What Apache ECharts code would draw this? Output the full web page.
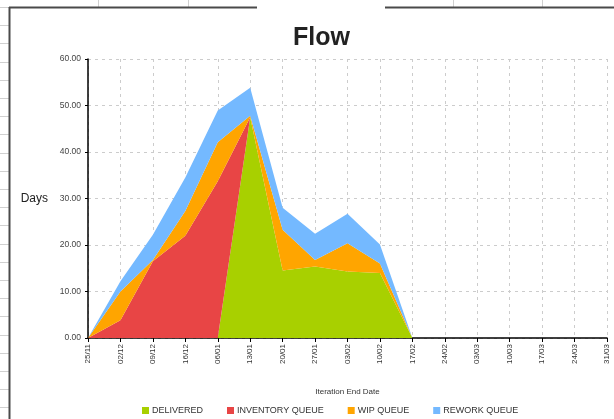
<!DOCTYPE html>
<html>
<head>
<meta charset="utf-8">
<script src="https://cdn.jsdelivr.net/npm/echarts@6/dist/echarts.min.js"></script>
<style>
html,body{margin:0;padding:0;background:#fff;}
#c{width:614px;height:419px;}
</style>
</head>
<body>
<div id="c"></div>
<script>
var categories = ['25/11','02/12','09/12','16/12','06/01','13/01','20/01','27/01','03/02','10/02','17/02','24/02','03/03','10/03','17/03','24/03','31/03'];
var delivered = [0, 0, 0, 0, 0, 47.5, 14.5, 15.4, 14.3, 14.0, 0];
var inventoryQueue = [0, 3.8, 16.5, 22.0, 33.7, 0, 0, 0, 0, 0, 0];
var wipQueue = [0, 6.2, 0.3, 5.3, 8.4, 0.3, 8.8, 1.4, 6.1, 2.0, 0];
var reworkQueue = [0, 2.2, 5.4, 7.2, 6.8, 6.0, 4.7, 5.6, 6.3, 4.1, 0];
var seriesNames = ['DELIVERED', 'INVENTORY QUEUE', 'WIP QUEUE', 'REWORK QUEUE'];
var seriesColors = ['#a8d000', '#e84545', '#ffa500', '#74b9ff'];

var chart = echarts.init(document.getElementById('c'), null, {renderer: 'canvas'});

// background sheet decoration
var deco = [];
for (var y = 7; y < 419; y += 18.2) {
  deco.push({type: 'line', shape: {x1: 0, y1: Math.round(y) + 0.5, x2: 9, y2: Math.round(y) + 0.5}, style: {stroke: '#d0d0d0', lineWidth: 1}, z: -10});
}
[98, 188, 276, 364, 453, 542].forEach(function (x) {
  deco.push({type: 'line', shape: {x1: x + 0.5, y1: 0, x2: x + 0.5, y2: 7}, style: {stroke: '#d0d0d0', lineWidth: 1}, z: -10});
});
deco.push({type: 'line', shape: {x1: 9.5, y1: 7, x2: 9.5, y2: 419}, style: {stroke: '#4a4a4a', lineWidth: 2}, z: -5});
deco.push({type: 'line', shape: {x1: 9, y1: 7.5, x2: 614, y2: 7.5}, style: {stroke: '#4a4a4a', lineWidth: 2}, z: -5});
deco.push({type: 'rect', shape: {x: 257, y: 0, width: 128, height: 14}, style: {fill: '#fff'}, z: -4});

var series = [delivered, inventoryQueue, wipQueue, reworkQueue].map(function (d, i) {
  return {
    name: seriesNames[i],
    type: 'line',
    stack: 'flow',
    data: d,
    symbol: 'none',
    lineStyle: {width: 0},
    areaStyle: {color: seriesColors[i], opacity: 1},
    itemStyle: {color: seriesColors[i]},
    emphasis: {disabled: true},
    animation: false
  };
});

chart.setOption({
  animation: false,
  backgroundColor: '#fff',
  title: {
    text: 'Flow',
    left: 288,
    top: 21,
    textStyle: {fontFamily: 'Liberation Sans, Arial, sans-serif', fontSize: 25, fontWeight: 'bold', color: '#222'}
  },
  graphic: deco,
  legend: {
    data: seriesNames,
    left: 137,
    top: 401,
    icon: 'rect',
    itemWidth: 7,
    itemHeight: 7,
    itemGap: 24,
    textStyle: {fontFamily: 'Liberation Sans, Arial, sans-serif', fontSize: 9, color: '#333', padding: [0, 0, 0, -2]}
  },
  grid: {left: 88, right: 7, top: 59, bottom: 81, containLabel: false},
  xAxis: {
    type: 'category',
    data: categories,
    boundaryGap: false,
    name: 'Iteration End Date',
    nameLocation: 'middle',
    nameGap: 50,
    nameTextStyle: {fontFamily: 'Liberation Sans, Arial, sans-serif', fontSize: 8, color: '#333'},
    axisLine: {lineStyle: {color: '#000', width: 1.5}},
    axisTick: {show: true, length: 4, lineStyle: {color: '#000'}},
    axisLabel: {rotate: 90, fontSize: 8, color: '#333', margin: 6, fontFamily: 'Liberation Sans, Arial, sans-serif'},
    splitLine: {show: true, lineStyle: {color: '#cccccc', type: [3, 4], width: 1}}
  },
  yAxis: {
    type: 'value',
    min: 0,
    max: 60,
    interval: 10,
    name: 'Days',
    nameLocation: 'middle',
    nameRotate: 0,
    nameGap: 40,
    nameTextStyle: {fontFamily: 'Liberation Sans, Arial, sans-serif', fontSize: 12, color: '#222', align: 'right'},
    axisLine: {show: true, lineStyle: {color: '#000', width: 1.5}},
    axisTick: {show: true, length: 3, lineStyle: {color: '#000'}},
    axisLabel: {
      fontSize: 8.5, color: '#444', margin: 7, fontFamily: 'Liberation Sans, Arial, sans-serif',
      formatter: function (v) { return v.toFixed(2); }
    },
    splitLine: {show: true, lineStyle: {color: '#cccccc', type: [3, 4], width: 1}}
  },
  series: series
});
</script>
</body>
</html>
